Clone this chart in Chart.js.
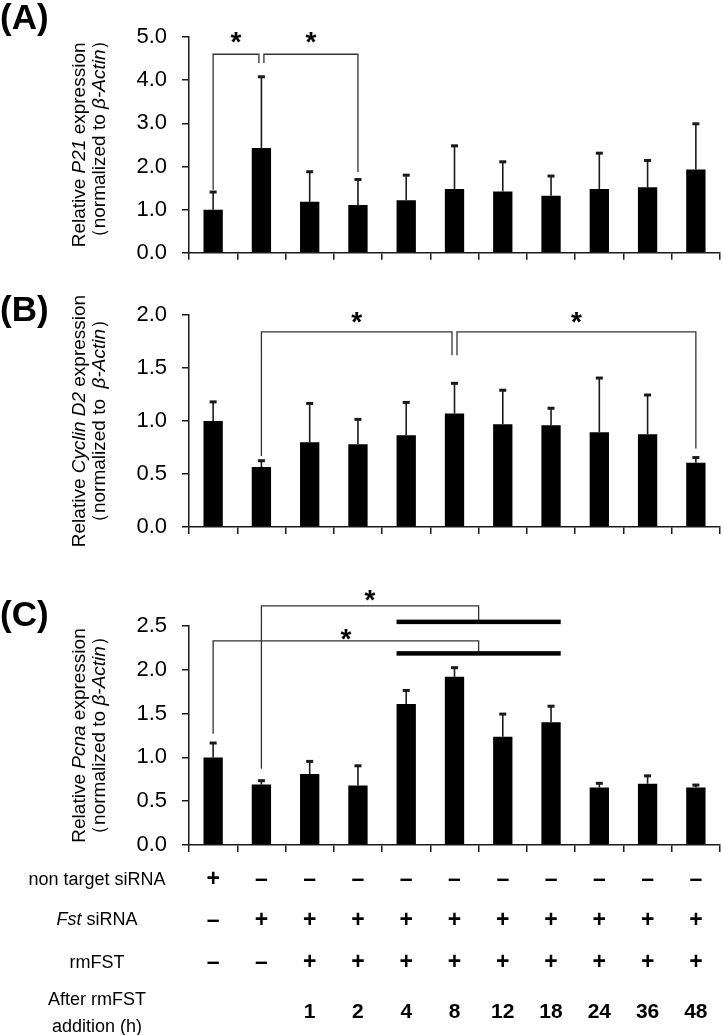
<!DOCTYPE html>
<html>
<head>
<meta charset="utf-8">
<script src="https://cdn.jsdelivr.net/npm/chart.js@4.4.0/dist/chart.umd.min.js"></script>
<style>
  html, body { margin: 0; padding: 0; background: #fff; }
  body { width: 724px; height: 1035px; position: relative; overflow: hidden; }
  canvas { position: absolute; left: 0; }
</style>
</head>
<body>
<canvas id="chartA" width="724" height="281" style="top:0px"></canvas>
<canvas id="chartB" width="724" height="290" style="top:270px"></canvas>
<canvas id="chartC" width="724" height="475" style="top:560px"></canvas>
<script>
// groups: control, knockdown, then hours after rmFST addition
const groups = ['NT', 'KD', '1', '2', '4', '8', '12', '18', '24', '36', '48'];
const hours = ['', '', '1', '2', '4', '8', '12', '18', '24', '36', '48'];
const nonTarget = ['+', '–', '–', '–', '–', '–', '–', '–', '–', '–', '–'];
const fstSirna  = ['–', '+', '+', '+', '+', '+', '+', '+', '+', '+', '+'];
const rmFst     = ['–', '–', '+', '+', '+', '+', '+', '+', '+', '+', '+'];

const p21Mean = [1.00, 2.43, 1.18, 1.11, 1.22, 1.48, 1.42, 1.32, 1.48, 1.52, 1.93];
const p21Sd   = [0.42, 1.66, 0.71, 0.60, 0.59, 1.01, 0.70, 0.47, 0.84, 0.63, 1.07];

const cyclinMean = [1.00, 0.565, 0.80, 0.78, 0.865, 1.07, 0.97, 0.96, 0.895, 0.875, 0.605];
const cyclinSd   = [0.185, 0.065, 0.37, 0.24, 0.315, 0.29, 0.325, 0.165, 0.515, 0.375, 0.055];

const pcnaMean = [1.00, 0.69, 0.81, 0.68, 1.61, 1.92, 1.235, 1.40, 0.655, 0.70, 0.655];
const pcnaSd   = [0.17, 0.05, 0.15, 0.23, 0.16, 0.11, 0.265, 0.19, 0.055, 0.095, 0.035];

const FONT = '"Liberation Sans", Arial, sans-serif';
const INK = '#1a1a1a';

function drawRuns(ctx, runs, x, y, size, weight) {
  const fontFor = (it) => (it ? 'italic ' : '') + (weight || '') + ' ' + size + 'px ' + FONT;
  const widths = runs.map(([t, it]) => { ctx.font = fontFor(it); return ctx.measureText(t).width; });
  let cx = x - widths.reduce((a, b) => a + b, 0) / 2;
  ctx.textAlign = 'left';
  runs.forEach(([t, it], i) => {
    ctx.font = fontFor(it);
    ctx.fillText(t, cx, y);
    cx += widths[i];
  });
}

// pixel x for an index (fractional allowed)
function xAt(chart, idx) {
  return chart.scales.x.getPixelForValue(idx);
}

const panelPlugin = {
  id: 'panel',
  afterDraw(chart, args, opts) {
    const ctx = chart.ctx;
    const ys = chart.scales.y;
    const meta = chart.getDatasetMeta(0);
    const sd = chart.data.datasets[0].sd;
    const top = chart.canvas.offsetTop;
    ctx.save();

    // error bars (upper only)
    ctx.strokeStyle = INK;
    ctx.fillStyle = INK;
    meta.data.forEach((bar, i) => {
      const v = chart.data.datasets[0].data[i];
      const yTop = ys.getPixelForValue(v + sd[i]);
      ctx.lineWidth = 1.6;
      ctx.beginPath();
      ctx.moveTo(bar.x, bar.y);
      ctx.lineTo(bar.x, yTop);
      ctx.stroke();
      ctx.fillRect(bar.x - 3.5, yTop - 1, 7, 3);
    });

    // brackets
    const GAP = 2.5;
    ctx.lineWidth = 1.3;
    ctx.strokeStyle = '#333';
    (opts.brackets || []).forEach(b => {
      const yb = ys.getPixelForValue(b.top);
      const x1 = xAt(chart, b.left[0]) + (b.left[2] || 0) * GAP;
      const x2 = xAt(chart, b.right[0]) + (b.right[2] || 0) * GAP;
      ctx.beginPath();
      ctx.moveTo(x1, ys.getPixelForValue(b.left[1]));
      ctx.lineTo(x1, yb);
      ctx.lineTo(x2, yb);
      ctx.lineTo(x2, ys.getPixelForValue(b.right[1]));
      ctx.stroke();
      if (b.span) {
        const l = meta.data[b.span[0]], r = meta.data[b.span[1]];
        ctx.fillStyle = '#000';
        const yy = ys.getPixelForValue(b.span[2]);
        ctx.fillRect(l.x - l.width / 2, yy - 2, (r.x + r.width / 2) - (l.x - l.width / 2), 4.5);
      }
      ctx.fillStyle = '#000';
      ctx.font = 'bold 28px ' + FONT;
      ctx.textAlign = 'center';
      ctx.textBaseline = 'alphabetic';
      ctx.fillText('*', (x1 + x2) / 2, ys.getPixelForValue(b.star) + 16);
    });

    // panel letter
    ctx.fillStyle = '#000';
    ctx.font = 'bold 35px ' + FONT;
    ctx.textAlign = 'left';
    ctx.textBaseline = 'middle';
    ctx.fillText(opts.letter, 0, opts.letterY);

    // y-axis title, two lines rotated
    const midY = (chart.chartArea.top + chart.chartArea.bottom) / 2;
    ctx.textBaseline = 'middle';
    opts.title.forEach((runs, li) => {
      ctx.save();
      ctx.translate(li === 0 ? 80 : 100, midY + (li === 0 ? 0 : (opts.line2Shift || 0)));
      ctx.rotate(-Math.PI / 2);
      drawRuns(ctx, runs, 0, 0, 19, '');
      ctx.restore();
    });

    // treatment table under the last panel (absolute page y minus canvas top)
    if (opts.table) {
      const rows = [[nonTarget, 880], [fstSirna, 921], [rmFst, 963]];
      ctx.textAlign = 'center';
      ctx.textBaseline = 'middle';
      rows.forEach(([signs, y]) => {
        signs.forEach((s, i) => {
          ctx.font = 'bold 23px ' + FONT;
          ctx.fillText(s, xAt(chart, i), y - top);
        });
      });
      hours.forEach((h, i) => {
        ctx.font = 'bold 21px ' + FONT;
        ctx.fillText(h, xAt(chart, i), 1012 - top);
      });
      const lx = 97;
      drawRuns(ctx, [['non target siRNA', false]], lx, 880 - top, 18, '');
      drawRuns(ctx, [['Fst', true], [' siRNA', false]], lx, 920 - top, 18, '');
      drawRuns(ctx, [['rmFST', false]], lx, 963 - top, 18, '');
      drawRuns(ctx, [['After rmFST', false]], lx, 1000 - top, 18, '');
      drawRuns(ctx, [['addition (h)', false]], lx, 1027 - top, 18, '');
    }
    ctx.restore();
  }
};

function makeChart(id, mean, sd, yMax, step, padTop, xHeight, panel) {
  return new Chart(document.getElementById(id), {
    type: 'bar',
    data: {
      labels: groups,
      datasets: [{
        data: mean,
        sd: sd,
        backgroundColor: '#000',
        borderWidth: 0,
        categoryPercentage: 0.8,
        barPercentage: 0.5
      }]
    },
    options: {
      responsive: false,
      animation: false,
      layout: { padding: { top: padTop, right: 4, left: 0, bottom: 0 } },
      plugins: { legend: { display: false }, tooltip: { enabled: false }, panel: panel },
      scales: {
        x: {
          ticks: { display: false },
          grid: { offset: true, drawOnChartArea: false, tickLength: 7, color: INK, lineWidth: 1.5 },
          border: { color: INK, width: 1.5 },
          afterFit: (s) => { s.height = xHeight; }
        },
        y: {
          min: 0, max: yMax,
          ticks: {
            stepSize: step,
            callback: (v) => v.toFixed(1),
            font: { family: FONT, size: 22 },
            color: '#000',
            padding: 15
          },
          grid: { drawOnChartArea: false, tickLength: 7, color: INK, lineWidth: 1.5 },
          border: { color: INK, width: 1.5 },
          afterFit: (s) => { s.width = 189; }
        }
      }
    },
    plugins: [panelPlugin]
  });
}

makeChart('chartA', p21Mean, p21Sd, 5, 1, 37, 27, {
  letter: '(A)', letterY: 19, line2Shift: -6,
  title: [
    [['Relative ', false], ['P21', true], [' expression', false]],
    [['（normalized to ', false], ['β-Actin', true], ['）', false]]
  ],
  brackets: [
    { left: [0, 1.46], right: [1, 4.4, -1], top: 4.6, star: 5.05 },
    { left: [1, 4.4, 1], right: [3, 1.87], top: 4.6, star: 5.05 }
  ]
});

makeChart('chartB', cyclinMean, cyclinSd, 2, 0.5, 45, 33, {
  letter: '(B)', letterY: 41,
  title: [
    [['Relative ', false], ['Cyclin D2', true], [' expression', false]],
    [['（normalized to  ', false], ['β-Actin', true], ['）', false]]
  ],
  brackets: [
    { left: [1, 0.67], right: [5, 1.62, -1], top: 1.84, star: 2.0 },
    { left: [5, 1.62, 1], right: [10, 0.74], top: 1.84, star: 2.0 }
  ]
});

makeChart('chartC', pcnaMean, pcnaSd, 2.5, 0.5, 66, 190, {
  letter: '(C)', letterY: 56,
  title: [
    [['Relative ', false], ['Pcna', true], [' expression', false]],
    [['（normalized to ', false], ['β-Actin', true], ['）', false]]
  ],
  table: true,
  brackets: [
    { left: [1, 0.87], right: [5.5, 2.56], top: 2.73, star: 2.88, span: [4, 7, 2.55] },
    { left: [0, 1.27], right: [5.5, 2.2], top: 2.33, star: 2.43, span: [4, 7, 2.19] }
  ]
});
</script>
</body>
</html>
